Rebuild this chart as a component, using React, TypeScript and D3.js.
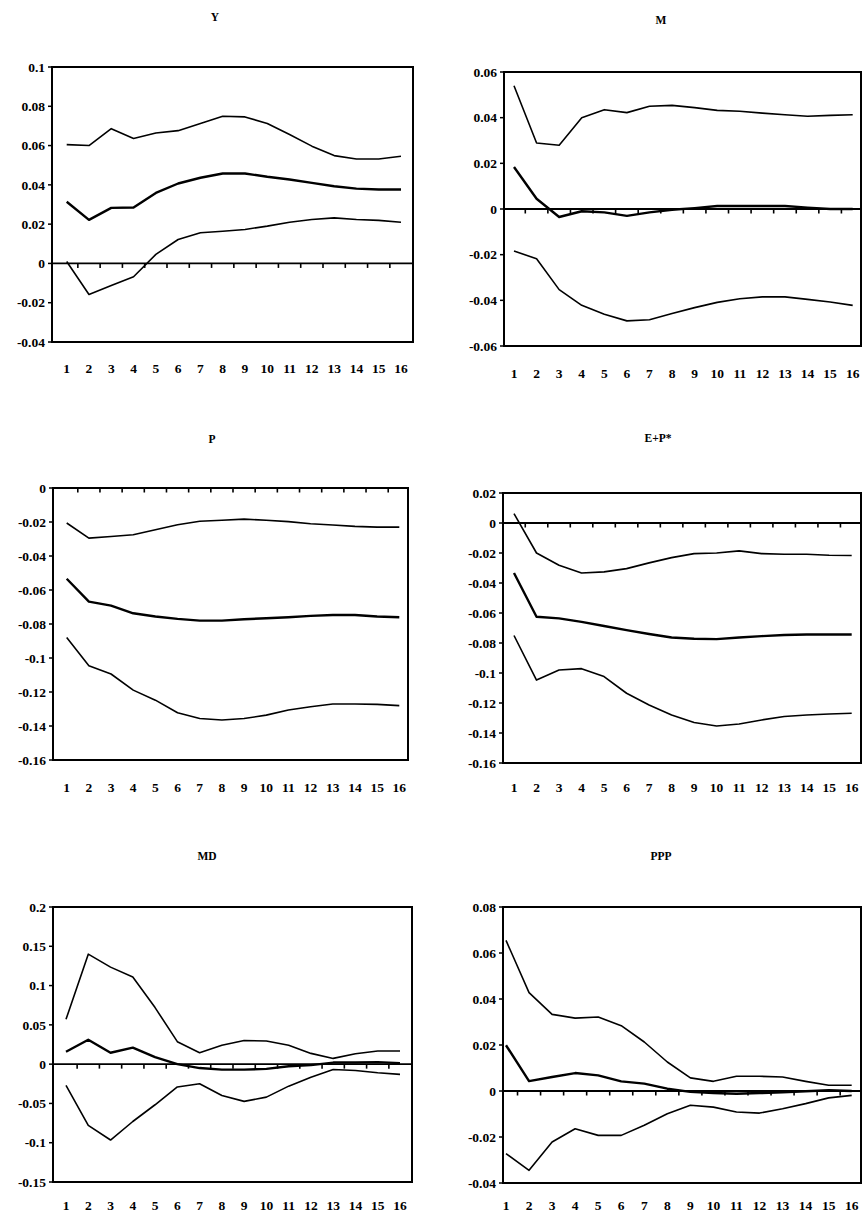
import React from "react";
import * as d3 from "d3";

const periods = d3.range(1, 17);

// Y panel
const yUpper = [0.0605, 0.060, 0.0686, 0.0636, 0.0664, 0.0676, 0.0712, 0.0749, 0.0746, 0.0712, 0.0656, 0.0597, 0.0549, 0.0532, 0.0532, 0.0546];
const yMid = [0.0314, 0.0222, 0.0283, 0.0285, 0.0359, 0.0407, 0.0436, 0.0458, 0.0458, 0.0441, 0.0427, 0.041, 0.0393, 0.0381, 0.0376, 0.0376];
const yLower = [0.001, -0.0158, -0.0112, -0.0068, 0.0046, 0.0122, 0.0156, 0.0164, 0.0173, 0.019, 0.021, 0.0224, 0.0232, 0.0224, 0.0219, 0.021];

// M panel
const mUpper = [0.054, 0.0289, 0.0279, 0.040, 0.0435, 0.0422, 0.045, 0.0454, 0.0444, 0.0432, 0.0428, 0.042, 0.0413, 0.0406, 0.041, 0.0413];
const mMid = [0.0184, 0.0045, -0.0035, -0.001, -0.0015, -0.003, -0.0015, -0.0003, 0.0004, 0.0013, 0.0013, 0.0013, 0.0013, 0.0006, 0, 0];
const mLower = [-0.0184, -0.0218, -0.0353, -0.0422, -0.0461, -0.049, -0.0485, -0.0458, -0.0432, -0.0409, -0.0393, -0.0385, -0.0385, -0.0396, -0.0407, -0.0422];

// P panel
const pUpper = [-0.0206, -0.0295, -0.0285, -0.0275, -0.0246, -0.0216, -0.0196, -0.019, -0.0183, -0.019, -0.0198, -0.021, -0.0218, -0.0226, -0.023, -0.023];
const pMid = [-0.0534, -0.0668, -0.0692, -0.0737, -0.0756, -0.077, -0.078, -0.078, -0.0772, -0.0766, -0.076, -0.0752, -0.0747, -0.0747, -0.0756, -0.076];
const pLower = [-0.088, -0.1045, -0.1094, -0.1189, -0.1248, -0.1322, -0.1356, -0.1365, -0.1356, -0.1336, -0.1306, -0.1287, -0.1271, -0.1271, -0.1273, -0.128];

// E+P* panel
const eUpper = [0.0062, -0.02, -0.0282, -0.0333, -0.0326, -0.0304, -0.0266, -0.0231, -0.0204, -0.02, -0.0186, -0.0204, -0.0208, -0.0208, -0.0215, -0.0217];
const eMid = [-0.0333, -0.0625, -0.0636, -0.0659, -0.0687, -0.0714, -0.074, -0.0763, -0.0772, -0.0774, -0.0763, -0.0754, -0.0747, -0.0743, -0.0743, -0.0743];
const eLower = [-0.075, -0.1047, -0.098, -0.0971, -0.1024, -0.1135, -0.1213, -0.128, -0.133, -0.1353, -0.134, -0.1313, -0.129, -0.128, -0.1273, -0.1268];

// MD panel
const mdUpper = [0.057, 0.14, 0.1235, 0.111, 0.072, 0.0286, 0.0145, 0.024, 0.030, 0.0295, 0.024, 0.0137, 0.0073, 0.0132, 0.0167, 0.0167];
const mdMid = [0.0158, 0.031, 0.0145, 0.021, 0.009, 0, -0.005, -0.007, -0.007, -0.006, -0.0026, -0.0013, 0.002, 0.002, 0.0026, 0.0013];
const mdLower = [-0.027, -0.078, -0.0966, -0.073, -0.0517, -0.029, -0.025, -0.040, -0.0474, -0.042, -0.028, -0.0167, -0.0068, -0.008, -0.011, -0.013];

// PPP panel
const pppUpper = [0.0655, 0.0428, 0.0333, 0.0317, 0.0322, 0.0284, 0.0213, 0.0126, 0.0057, 0.0042, 0.0064, 0.0064, 0.0061, 0.0042, 0.0025, 0.0025];
const pppMid = [0.0199, 0.0043, 0.0061, 0.0078, 0.0068, 0.0042, 0.0032, 0.001, -0.0004, -0.0009, -0.0012, -0.0009, -0.0006, -0.0001, 0.0003, 0];
const pppLower = [-0.0272, -0.0345, -0.0222, -0.0164, -0.0193, -0.0193, -0.0149, -0.0099, -0.0062, -0.007, -0.0091, -0.0096, -0.0077, -0.0055, -0.003, -0.0019];

// Tick values
const ticksY = [-0.04, -0.02, 0, 0.02, 0.04, 0.06, 0.08, 0.1];
const ticksM = [-0.06, -0.04, -0.02, 0, 0.02, 0.04, 0.06];
const ticksP = [-0.16, -0.14, -0.12, -0.1, -0.08, -0.06, -0.04, -0.02, 0];
const ticksE = [-0.16, -0.14, -0.12, -0.1, -0.08, -0.06, -0.04, -0.02, 0, 0.02];
const ticksMD = [-0.15, -0.1, -0.05, 0, 0.05, 0.1, 0.15, 0.2];
const ticksPPP = [-0.04, -0.02, 0, 0.02, 0.04, 0.06, 0.08];

const FONT = "'Liberation Serif', 'Times New Roman', serif";

type PanelProps = {
  title: string;
  titleX: number;
  titleY: number;
  left: number;
  right: number;
  top: number;
  bottom: number;
  ticks: number[];
  x1: number;
  x16: number;
  labelY: number;
  series: number[][];
};

const fmt = (v: number) => String(+v.toFixed(2));

function Panel(p: PanelProps) {
  const y = d3.scaleLinear().domain([p.ticks[0], p.ticks[p.ticks.length - 1]]).range([p.bottom, p.top]);
  const x = d3.scaleLinear().domain([1, 16]).range([p.x1, p.x16]);
  const line = d3
    .line<number>()
    .x((_, i) => x(periods[i]))
    .y((d) => y(d));
  const y0 = y(0);
  const boundaries = d3.range(1, 16).map((i) => i + 0.5);
  return (
    <g>
      <text x={p.titleX} y={p.titleY} textAnchor="middle" dominantBaseline="middle" fontFamily={FONT} fontWeight="bold" fontSize={11.5}>
        {p.title}
      </text>
      <rect x={p.left} y={p.top} width={p.right - p.left} height={p.bottom - p.top} fill="none" stroke="#000" strokeWidth={2} />
      {p.ticks.map((t) => (
        <g key={t}>
          <line x1={p.left - 4} x2={p.left} y1={y(t)} y2={y(t)} stroke="#000" strokeWidth={1.5} />
          <text x={p.left - 7} y={y(t)} dy="0.35em" textAnchor="end" fontFamily={FONT} fontWeight="bold" fontSize={13.5}>
            {fmt(t)}
          </text>
        </g>
      ))}
      <line x1={p.left} x2={p.right} y1={y0} y2={y0} stroke="#000" strokeWidth={1.8} />
      {boundaries.map((b) => (
        <line key={b} x1={x(b)} x2={x(b)} y1={y0} y2={y0 + 4.5} stroke="#000" strokeWidth={1.6} />
      ))}
      {periods.map((d) => (
        <text key={d} x={x(d)} y={p.labelY} dy="0.35em" textAnchor="middle" fontFamily={FONT} fontWeight="bold" fontSize={13.5}>
          {d}
        </text>
      ))}
      {p.series.map((s, i) => (
        <path key={i} d={line(s) || ""} fill="none" stroke="#000" strokeWidth={i === 1 ? 2.4 : 1.6} strokeLinejoin="round" />
      ))}
    </g>
  );
}

export default function App() {
  return (
    <svg width={862} height={1215} style={{ position: "absolute", left: 0, top: 0, background: "#fff" }}>
      <rect width={862} height={1215} fill="#fff" />
      <Panel title="Y" titleX={215} titleY={18} left={52} right={413} top={67} bottom={342} ticks={ticksY} x1={66.7} x16={401} labelY={368} series={[yUpper, yMid, yLower]} />
      <Panel title="M" titleX={661} titleY={21} left={504} right={861} top={72} bottom={346} ticks={ticksM} x1={514} x16={852.7} labelY={373} series={[mUpper, mMid, mLower]} />
      <Panel title="P" titleX={212} titleY={440} left={53} right={408} top={488} bottom={760} ticks={ticksP} x1={66.7} x16={399.3} labelY={787} series={[pUpper, pMid, pLower]} />
      <Panel title="E+P*" titleX={658} titleY={439} left={503} right={861} top={493} bottom={763} ticks={ticksE} x1={514} x16={851.7} labelY={787} series={[eUpper, eMid, eLower]} />
      <Panel title="MD" titleX={207} titleY={857} left={53} right={412} top={907} bottom={1182} ticks={ticksMD} x1={66} x16={400} labelY={1205} series={[mdUpper, mdMid, mdLower]} />
      <Panel title="PPP" titleX={661} titleY={857} left={503} right={861} top={907} bottom={1183} ticks={ticksPPP} x1={506} x16={851.7} labelY={1205} series={[pppUpper, pppMid, pppLower]} />
    </svg>
  );
}
